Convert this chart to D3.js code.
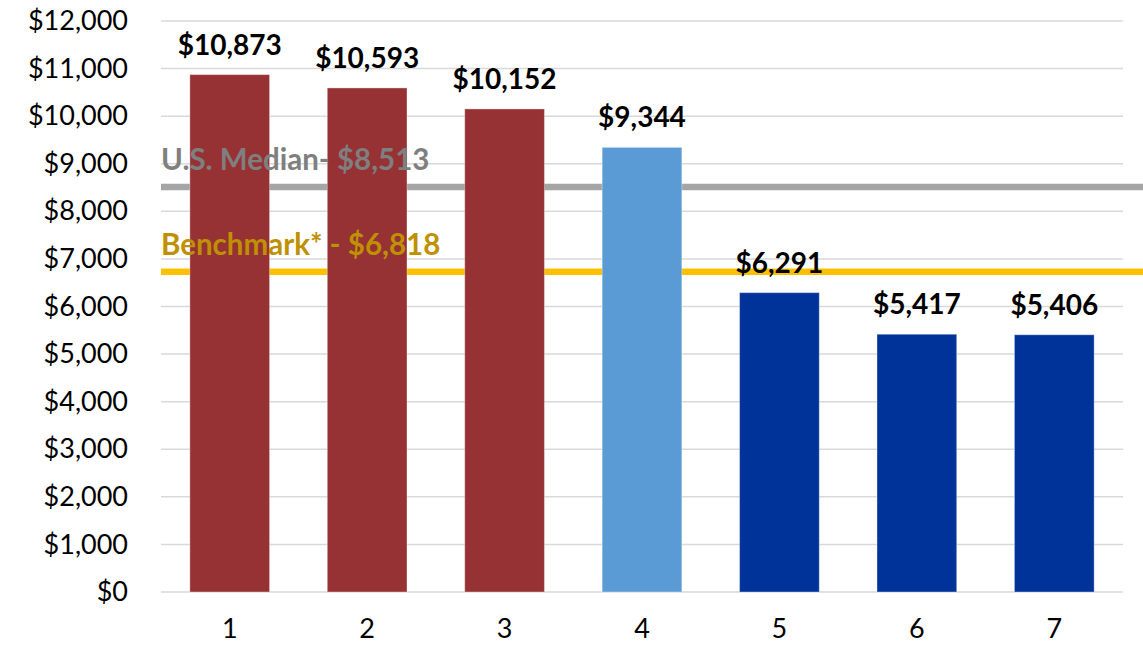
<!DOCTYPE html>
<html>
<head>
<meta charset="utf-8">
<script src="https://cdn.jsdelivr.net/npm/d3@7"></script>
<style>
  body { margin: 0; background: #fff; }
  text { font-family: Lato, "Open Sans", sans-serif; }
</style>
</head>
<body>
<div id="chart"></div>
<script>
const categories = ["1", "2", "3", "4", "5", "6", "7"];
const values = [10873, 10593, 10152, 9344, 6291, 5417, 5406];
const barColors = ["#973234", "#973234", "#973234", "#5B9BD5", "#003399", "#003399", "#003399"];
const yTicks = [0, 1000, 2000, 3000, 4000, 5000, 6000, 7000, 8000, 9000, 10000, 11000, 12000];
const refLabels = ["U.S. Median- $8,513", "Benchmark* - $6,818"];
const refValues = [8513, 6730];
const refLineColors = ["#A5A5A5", "#FFC000"];
const refTextColors = ["#7F7F7F", "#BF9000"];

const width = 1143;
const height = 645;

const svg = d3.select("#chart")
	.append("svg")
	.attr("width", width)
	.attr("height", height);

const x = d3.scaleBand()
	.domain(categories)
	.range([161, 1123])
	.paddingInner(0.42)
	.paddingOuter(0.21);

const y = d3.scaleLinear()
	.domain([0, 12000])
	.range([592, 21]);

const fmt = d3.format(",");
const money = v => "$" + fmt(v);

// gridlines
svg.append("g")
	.selectAll("line")
	.data(yTicks)
	.join("line")
	.attr("x1", 161)
	.attr("x2", 1123)
	.attr("y1", d => y(d))
	.attr("y2", d => y(d))
	.attr("stroke", "#D9D9D9")
	.attr("stroke-width", 1.5);

// y axis labels
const yAxis = d3.axisLeft(y)
	.tickValues(yTicks)
	.tickSize(0)
	.tickPadding(0)
	.tickFormat(money);

svg.append("g")
	.attr("transform", "translate(128,0)")
	.call(yAxis)
	.call(g => g.select(".domain").remove())
	.selectAll("text")
	.attr("font-size", 27)
	.attr("font-family", "Lato, sans-serif")
	.attr("fill", "#000");

// x axis labels
const xAxis = d3.axisBottom(x)
	.tickSize(0)
	.tickPadding(0);

svg.append("g")
	.attr("transform", "translate(0,619)")
	.call(xAxis)
	.call(g => g.select(".domain").remove())
	.selectAll("text")
	.attr("font-size", 27)
	.attr("font-family", "Lato, sans-serif")
	.attr("fill", "#000");

// reference lines (under the bars)
svg.append("g")
	.selectAll("line")
	.data(refValues)
	.join("line")
	.attr("x1", 161)
	.attr("x2", width)
	.attr("y1", d => y(d))
	.attr("y2", d => y(d))
	.attr("stroke", (d, i) => refLineColors[i])
	.attr("stroke-width", 6.5);

// bars
svg.append("g")
	.selectAll("rect")
	.data(values)
	.join("rect")
	.attr("x", (d, i) => x(categories[i]))
	.attr("width", x.bandwidth())
	.attr("y", d => y(d))
	.attr("height", d => y(0) - y(d))
	.attr("fill", (d, i) => barColors[i])
	.attr("stroke", "#fff")
	.attr("stroke-opacity", 0.35)
	.attr("stroke-width", 1);

// value labels
svg.append("g")
	.selectAll("text")
	.data(values)
	.join("text")
	.attr("x", (d, i) => x(categories[i]) + x.bandwidth() / 2)
	.attr("y", d => y(d) - 20)
	.attr("text-anchor", "middle")
	.attr("font-size", 28)
	.attr("font-weight", "bold")
	.attr("fill", "#000")
	.text(money);

// reference labels
svg.append("g")
	.selectAll("text")
	.data(refLabels)
	.join("text")
	.attr("x", 161)
	.attr("y", (d, i) => y(refValues[i]) - 17)
	.attr("font-size", 29.5)
	.attr("font-weight", "bold")
	.attr("fill", (d, i) => refTextColors[i])
	.text(d => d);
</script>
</body>
</html>
